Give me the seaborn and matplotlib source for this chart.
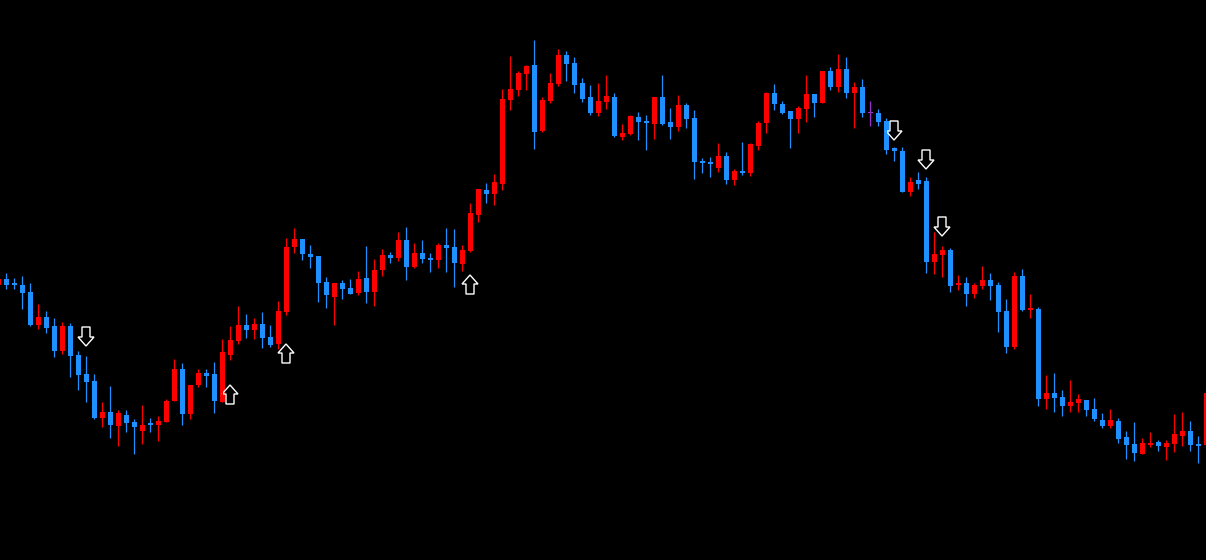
import numpy as np
import pandas as pd
import matplotlib
matplotlib.use('Agg')
import matplotlib.pyplot as plt
from matplotlib.patches import Polygon
import seaborn as sns

# OHLC values (price in chart points), one entry per candle
opens = [275, 281, 277, 275, 268, 235, 243, 234, 209, 234, 205, 186, 179, 142, 148, 134, 145, 138, 129, 137,
         135, 138, 159, 191, 146, 175, 187, 186, 158, 205, 219, 235, 230, 236, 223, 216, 248, 313, 321, 306,
         304, 278, 263, 277, 272, 267, 282, 268, 290, 305, 302, 320, 293, 307, 302, 300, 315, 313, 296, 309,
         345, 370, 366, 376, 460, 470, 486, 495, 429, 459, 476, 505, 497, 477, 463, 447, 458, 463, 423, 426,
         443, 439, 436, 463, 438, 433, 455, 442, 399, 398, 392, 404, 380, 389, 387, 414, 437, 467, 456, 449,
         441, 451, 466, 457, 489, 473, 491, 467, 473, 447.5, 447, 439, 412, 409, 368, 380, 379, 298, 305, 310,
         275, 277, 266, 274, 280, 275, 249, 213, 284, 250, 251, 161, 167, 163, 154, 157, 160, 151, 140, 134,
         139, 123, 116, 106, 116, 118, 113, 116, 124, 129, 116, 115]
highs = [283, 287, 282, 284, 277, 256, 249, 242, 238, 237, 209, 204, 186, 158, 174, 150, 150, 141, 155, 142,
         144, 161, 201, 197, 175, 191, 191, 198, 221, 234, 254, 246, 242, 248, 235, 259, 322, 332, 321, 315,
         304, 283, 277, 280, 281, 289, 314, 301, 311, 308, 328, 333, 317, 320, 307, 317, 332, 331, 315, 357,
         371, 377, 386, 471, 504, 489, 495, 520, 463, 487, 511, 509, 503, 482, 475, 477, 485, 467, 436, 445,
         448, 445, 463, 485, 452, 465, 457, 450, 402, 403, 417, 408, 391, 418, 417, 439, 468, 476, 459, 449,
         454, 485, 466, 489, 493, 506, 503, 478, 481, 459, 451, 442, 413, 413, 383, 388, 383, 328, 314, 312,
         285, 283, 277, 294, 287, 278, 261, 288, 291, 266, 253, 185, 187, 170, 180, 166, 160, 162, 147, 151,
         142, 129, 138, 122, 128, 120, 120, 146, 148, 139, 124, 170]
lows = [273, 271, 271, 251, 234, 231, 227, 203, 206, 183, 170, 158, 141, 133, 122, 114, 128, 106, 116, 128,
        119, 138, 159, 135, 141, 173, 173, 147, 158, 200, 216, 222, 221, 212, 213, 211, 245, 307, 300, 292,
        258, 252, 235, 261, 266, 265, 257, 254, 284, 297, 299, 280, 292, 297, 288, 292, 288, 273, 289, 308,
        338, 357, 355, 370, 450, 464, 470, 411, 428, 457, 474, 479, 467, 458, 445, 444, 451, 423, 420, 425,
        420, 410, 421, 435, 421, 429, 432, 381, 387, 383, 388, 376, 375, 385, 384, 410, 427, 450, 446, 412,
        427, 438, 443, 457, 470, 468, 462, 432, 443, 434, 434, 406, 399, 368, 364, 371, 287, 286, 283, 268,
        270, 254, 262, 271, 260, 228, 207, 211, 249, 242, 154, 151, 148, 144, 148, 148, 144, 139, 132, 132,
        117, 101, 99, 106, 113, 109, 100, 108, 114, 109, 97, 114]
closes = [281, 275, 275, 267, 235, 243, 232, 209, 234, 204, 185, 178, 142, 148, 135, 147, 137, 133, 135, 135,
          139, 159, 191, 146, 175, 187, 184, 159, 208, 220, 235, 230, 236, 222, 215, 249, 313, 321, 306, 303,
          277, 265, 277, 271, 266, 281, 268, 290, 305, 302, 320, 293, 307, 301, 300, 315, 312, 297, 310, 347,
          371, 366, 378, 461, 471, 487, 494, 428, 460, 477, 505, 496, 475, 461, 447, 459, 464, 424, 427, 444,
          438, 437, 463, 436, 433, 455, 441, 398, 397, 396, 404, 380, 389, 387, 416, 437, 467, 456, 447, 441,
          452, 466, 457, 489, 473, 491, 467, 473, 447, 447.5, 438, 410, 409, 368, 378, 376, 298, 306, 310, 274,
          277, 266, 275, 280, 274, 248, 213, 284, 250, 252, 161, 167, 162, 154, 158, 161, 150, 141, 134, 140,
          121, 115, 107, 117, 117, 114, 117, 126, 129, 115, 114, 167]

# signal arrows: candle index and price of the arrow tip
up_idx = [28, 35, 58]
up_tip = [175, 216, 285]
down_idx = [10, 111, 115, 117]
down_tip = [214, 420, 391, 324]

df = pd.DataFrame({'open': opens, 'high': highs, 'low': lows, 'close': closes})
df['x'] = np.arange(len(df)) - 1  # first candle is cut off at the left edge

bull, bear, doji = '#ff0000', '#1e90ff', '#9932cc'
df['color'] = np.where(df['close'] > df['open'], bull, np.where(df['close'] < df['open'], bear, doji))

sns.set_theme(style='dark', rc={'figure.facecolor': 'black', 'axes.facecolor': 'black'})

fig = plt.figure(figsize=(12.06, 5.6), dpi=100)
ax = fig.add_axes([0, 0, 1, 1])
ax.set_facecolor('black')

# wicks
ax.vlines(df['x'], df['low'], df['high'], colors=df['color'], linewidth=0.9)

# bodies
body_lo = df[['open', 'close']].min(axis=1)
body_h = (df['close'] - df['open']).abs().clip(lower=1.2)
ax.bar(df['x'], body_h, bottom=body_lo - np.where(body_h == 1.2, 0.6, 0), width=0.625,
       color=df['color'], linewidth=0)


def arrow(ax, x, tip, up):
    s = 1 if up else -1
    hw, sw, hh, tot = 1.0, 0.5, 9, 19  # half widths in candle units, heights in points
    pts = [(x, tip), (x + hw, tip - s * hh), (x + sw, tip - s * hh), (x + sw, tip - s * tot),
           (x - sw, tip - s * tot), (x - sw, tip - s * hh), (x - hw, tip - s * hh)]
    ax.add_patch(Polygon(pts, closed=True, fill=False, edgecolor='white', linewidth=1.0, joinstyle='miter'))


for i, t in zip(up_idx, up_tip):
    arrow(ax, i, t, True)
for i, t in zip(down_idx, down_tip):
    arrow(ax, i, t, False)

ax.set_xlim(-0.75, 150)
ax.set_ylim(0, 560)
ax.axis('off')

fig.savefig('out.png', dpi=100, facecolor='black')
